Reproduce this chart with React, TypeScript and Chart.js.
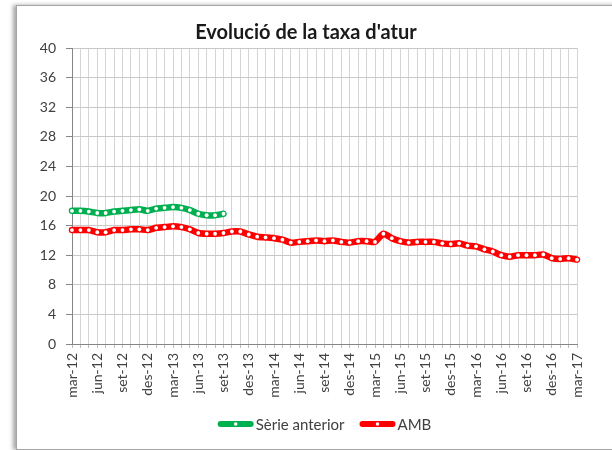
import React, { useEffect, useRef } from "react";
import { Chart, registerables } from "chart.js";

Chart.register(...registerables);

const TITLE = "Evolució de la taxa d'atur";

const months = [
  "mar-12","abr-12","mai-12","jun-12","jul-12","ago-12","set-12","oct-12","nov-12","des-12",
  "gen-13","feb-13","mar-13","abr-13","mai-13","jun-13","jul-13","ago-13","set-13","oct-13","nov-13","des-13",
  "gen-14","feb-14","mar-14","abr-14","mai-14","jun-14","jul-14","ago-14","set-14","oct-14","nov-14","des-14",
  "gen-15","feb-15","mar-15","abr-15","mai-15","jun-15","jul-15","ago-15","set-15","oct-15","nov-15","des-15",
  "gen-16","feb-16","mar-16","abr-16","mai-16","jun-16","jul-16","ago-16","set-16","oct-16","nov-16","des-16",
  "gen-17","feb-17","mar-17",
];

const shownLabels = [
  "mar-12","jun-12","set-12","des-12","mar-13","jun-13","set-13","des-13",
  "mar-14","jun-14","set-14","des-14","mar-15","jun-15","set-15","des-15",
  "mar-16","jun-16","set-16","des-16","mar-17",
];

const serieAnterior = [
  18.0, 18.0, 17.9, 17.7, 17.7, 17.9, 18.0, 18.1, 18.2, 18.0,
  18.3, 18.4, 18.5, 18.4, 18.1, 17.6, 17.4, 17.4, 17.6,
];

const amb = [
  15.4, 15.4, 15.4, 15.1, 15.1, 15.4, 15.4, 15.5, 15.5, 15.4,
  15.7, 15.8, 15.9, 15.8, 15.5, 15.0, 14.9, 14.9, 15.0, 15.2, 15.2, 14.8,
  14.5, 14.4, 14.3, 14.1, 13.7, 13.8, 13.9, 14.0, 13.9, 14.0, 13.8, 13.7,
  13.9, 13.9, 13.8, 14.9, 14.3, 13.9, 13.7, 13.8, 13.8, 13.8, 13.6, 13.5,
  13.6, 13.3, 13.2, 12.8, 12.5, 12.0, 11.8, 12.0, 12.0, 12.0, 12.1, 11.6,
  11.5, 11.6, 11.4,
];

const yMin = 0;
const yMax = 40;
const yStep = 4;

const seriesNames = ["Sèrie anterior", "AMB"];
const seriesColors = ["#00b050", "#ff0000"];

const FONT = "Lato, 'Open Sans', sans-serif";

const titleLegendPlugin = {
  id: "titleLegend",
  afterDraw(chart: any) {
    const ctx = chart.ctx as CanvasRenderingContext2D;
    const area = chart.chartArea;
    ctx.save();
    // title
    ctx.font = `bold 20px ${FONT}`;
    ctx.fillStyle = "#1a1a1a";
    ctx.textAlign = "center";
    ctx.textBaseline = "middle";
    ctx.fillText(TITLE, chart.width / 2, 33);

    // legend
    ctx.font = `15px ${FONT}`;
    const lineW = 36;
    const gap = 2;
    const spacing = 15;
    const widths = seriesNames.map((n) => ctx.measureText(n).width);
    const total = widths.reduce((a, w) => a + lineW + gap + w, 0) + spacing * (seriesNames.length - 1);
    let x = (area.left + area.right) / 2 - total / 2;
    const y = 424;
    seriesNames.forEach((name, i) => {
      ctx.strokeStyle = seriesColors[i];
      ctx.lineWidth = 6;
      ctx.lineCap = "round";
      ctx.beginPath();
      ctx.moveTo(x + 3, y);
      ctx.lineTo(x + lineW - 3, y);
      ctx.stroke();
      ctx.fillStyle = "#ffffff";
      ctx.beginPath();
      ctx.arc(x + lineW / 2, y, 1.8, 0, Math.PI * 2);
      ctx.fill();
      ctx.fillStyle = "#404040";
      ctx.textAlign = "left";
      ctx.textBaseline = "middle";
      ctx.fillText(name, x + lineW + gap, y + 1);
      x += lineW + gap + widths[i] + spacing;
    });
    ctx.restore();
  },
};

export default function App() {
  const ref = useRef<HTMLCanvasElement | null>(null);

  useEffect(() => {
    document.body.style.margin = "0";
    if (!ref.current) return;
    const chart = new Chart(ref.current, {
      type: "line",
      data: {
        labels: months,
        datasets: [
          {
            label: seriesNames[0],
            data: serieAnterior,
            borderColor: seriesColors[0],
            backgroundColor: seriesColors[0],
            borderWidth: 6.5,
            pointRadius: 1.9,
            pointBorderWidth: 0,
            pointBackgroundColor: "#ffffff",
            tension: 0.2,
            borderCapStyle: "round",
            borderJoinStyle: "round",
          },
          {
            label: seriesNames[1],
            data: amb,
            borderColor: seriesColors[1],
            backgroundColor: seriesColors[1],
            borderWidth: 6.5,
            pointRadius: 1.9,
            pointBorderWidth: 0,
            pointBackgroundColor: "#ffffff",
            tension: 0.2,
            borderCapStyle: "round",
            borderJoinStyle: "round",
          },
        ],
      },
      options: {
        animation: false,
        responsive: false,
        events: [],
        layout: { padding: { left: 16, right: 35, top: 48, bottom: 0 } },
        plugins: {
          legend: { display: false },
          title: { display: false },
          tooltip: { enabled: false },
        },
        scales: {
          x: {
            type: "category",
            offset: false,
            afterFit: (s: any) => {
              s.height = 106;
            },
            grid: {
              color: "#d4d4d4",
              lineWidth: 1,
              tickLength: 4,
              tickColor: "#bfbfbf",
            },
            border: { color: "#868686", width: 1 },
            ticks: {
              autoSkip: false,
              minRotation: 90,
              maxRotation: 90,
              padding: 5,
              color: "#404040",
              font: { family: FONT, size: 14 },
              callback: (_v: any, i: number) => {
                const l = months[i];
                return shownLabels.includes(l) ? l : "";
              },
            },
          },
          y: {
            min: yMin,
            max: yMax,
            afterFit: (s: any) => {
              s.width = 56;
            },
            grid: {
              color: "#c8c8c8",
              lineWidth: 1,
              tickLength: 6,
              tickColor: "#868686",
            },
            border: { color: "#868686", width: 1 },
            ticks: {
              stepSize: yStep,
              padding: 10,
              color: "#404040",
              font: { family: FONT, size: 14 },
            },
          },
        },
      },
      plugins: [titleLegendPlugin],
    });
    return () => chart.destroy();
  }, []);

  return (
    <div style={{ position: "relative", width: 612, height: 450, overflow: "hidden", background: "#fff" }}>
      <div
        style={{
          position: "absolute",
          left: 16,
          top: 5,
          width: 700,
          height: 443,
          border: "1px solid #a6a6a6",
          boxShadow: "-3px 0 4px rgba(0,0,0,0.35)",
          background: "#fff",
        }}
      />
      <canvas ref={ref} width={612} height={450} style={{ position: "absolute", left: 0, top: 0 }} />
    </div>
  );
}
